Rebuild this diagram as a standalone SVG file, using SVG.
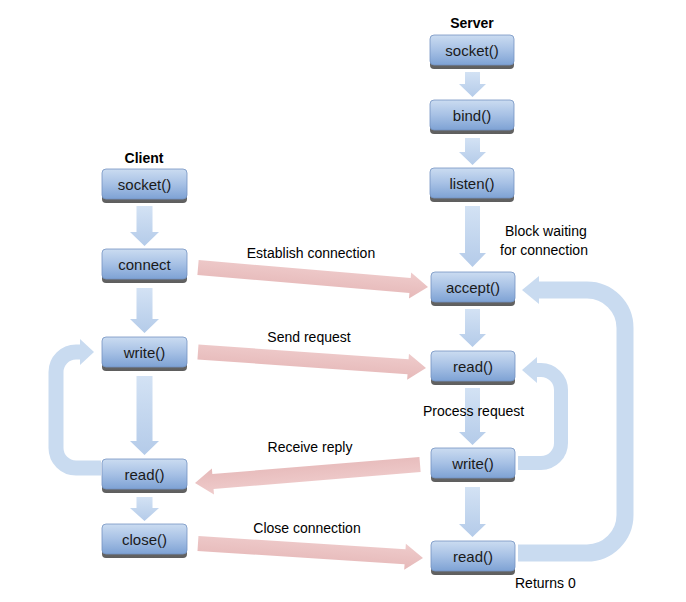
<svg xmlns="http://www.w3.org/2000/svg" width="686" height="602" viewBox="0 0 686 602">
<defs>
<linearGradient id="gBox" x1="0" y1="0" x2="0" y2="1">
<stop offset="0" stop-color="#cbdcf1"/>
<stop offset="0.5" stop-color="#a7c1e5"/>
<stop offset="1" stop-color="#7ea2d4"/>
</linearGradient>
<linearGradient id="gShadow" x1="0" y1="0" x2="0" y2="1">
<stop offset="0" stop-color="#8a8a8a"/>
<stop offset="1" stop-color="#5e5e5e"/>
</linearGradient>
<linearGradient id="gDown" x1="0" y1="0" x2="0" y2="1">
<stop offset="0" stop-color="#d3e2f4"/>
<stop offset="1" stop-color="#b4cbe9"/>
</linearGradient>
<linearGradient id="gPink" x1="0" y1="0" x2="0" y2="1">
<stop offset="0" stop-color="#efcccc"/>
<stop offset="1" stop-color="#e6b9b9"/>
</linearGradient>
</defs>
<style>
.shadow{fill:url(#gShadow);}
.box{fill:url(#gBox);stroke:#7393c2;stroke-width:0.8;}
.lbl{font-family:"Liberation Sans",Arial,sans-serif;font-size:15px;fill:#1a1a1a;text-anchor:middle;}
.txt{font-family:"Liberation Sans",Arial,sans-serif;font-size:14px;fill:#000;}
.hdr{font-family:"Liberation Sans",Arial,sans-serif;font-size:14px;font-weight:bold;fill:#000;text-anchor:middle;}
.down{fill:url(#gDown);}
.pink{fill:url(#gPink);}
.loop{fill:none;stroke:#c9dbf0;}
.loophead{fill:#c9dbf0;}
</style>

<text class="hdr" x="144" y="163">Client</text>
<text class="hdr" x="472" y="28">Server</text>

<g id="connectors">
<!-- client down arrows -->
<path class="down" d="M136.5,206 H152.5 V232 H159 L144.5,246 L130,232 H136.5 Z"/>
<path class="down" d="M136.5,288 H152.5 V319 H159 L144.5,333 L130,319 H136.5 Z"/>
<path class="down" d="M136.5,376 H152.5 V441 H159 L144.5,455 L130,441 H136.5 Z"/>
<path class="down" d="M136.5,497 H152.5 V508 H159 L144.5,521 L130,508 H136.5 Z"/>
<!-- server down arrows -->
<path class="down" d="M465,72 H480 V84 H486 L472.5,97 L459,84 H465 Z"/>
<path class="down" d="M465,138 H480 V152 H486 L472.5,165 L459,152 H465 Z"/>
<path class="down" d="M465,206 H480 V253 H486 L472.5,267 L459,253 H465 Z"/>
<path class="down" d="M465,309 H480 V334 H486 L472.5,347 L459,334 H465 Z"/>
<path class="down" d="M465,388 H480 V432 H486 L472.5,445 L459,432 H465 Z"/>
<path class="down" d="M465,487 H480 V524 H486 L472.5,537 L459,524 H465 Z"/>

<!-- pink message arrows -->
<polygon class="pink" transform="translate(428,287) rotate(4.85)" points="-230.8,-7.5 -18,-7.5 -18,-13 0,0 -18,13 -18,7.5 -230.8,7.5"/>
<polygon class="pink" transform="translate(426,368) rotate(4.01)" points="-228.6,-7.5 -18,-7.5 -18,-13 0,0 -18,13 -18,7.5 -228.6,7.5"/>
<polygon class="pink" transform="translate(195,483) rotate(175.3)" points="-225.8,-7.5 -18,-7.5 -18,-13 0,0 -18,13 -18,7.5 -225.8,7.5"/>
<polygon class="pink" transform="translate(423,558) rotate(3.69)" points="-225.5,-7.5 -18,-7.5 -18,-13 0,0 -18,13 -18,7.5 -225.5,7.5"/>

<!-- client loop read -> write -->
<path class="loop" stroke-width="15" d="M101,468 H76 A20,20 0 0 1 56,448 V372 A20,20 0 0 1 76,352 H82"/>
<polygon class="loophead" points="80,339 94,352 80,365"/>
<!-- server inner loop write -> read -->
<path class="loop" stroke-width="14" d="M518,463 H541 A20,20 0 0 0 561,443 V390 A20,20 0 0 0 541,370 H535"/>
<polygon class="loophead" points="537,357 522,370 537,383"/>
<!-- server outer loop read -> accept -->
<path class="loop" stroke-width="17" d="M518,553 H587 A38,38 0 0 0 625,515 V328 A38,38 0 0 0 587,290 H537"/>
<polygon class="loophead" points="539,276 522,290 539,304"/>
</g>

<!-- client nodes -->
<g id="c_socket"><rect class="shadow" x="102" y="172" width="85" height="31" rx="4"/><rect class="box" x="102" y="169" width="85" height="30" rx="4"/><text class="lbl" x="144.5" y="189.5">socket()</text></g>
<g id="c_connect"><rect class="shadow" x="102" y="252" width="85" height="31" rx="4"/><rect class="box" x="102" y="249" width="85" height="30" rx="4"/><text class="lbl" x="144.5" y="269.5">connect</text></g>
<g id="c_write"><rect class="shadow" x="102" y="340" width="85" height="31" rx="4"/><rect class="box" x="102" y="337" width="85" height="30" rx="4"/><text class="lbl" x="144.5" y="357.5">write()</text></g>
<g id="c_read"><rect class="shadow" x="102" y="462" width="85" height="31" rx="4"/><rect class="box" x="102" y="459" width="85" height="30" rx="4"/><text class="lbl" x="144.5" y="479.5">read()</text></g>
<g id="c_close"><rect class="shadow" x="102" y="527" width="85" height="31" rx="4"/><rect class="box" x="102" y="524" width="85" height="30" rx="4"/><text class="lbl" x="144.5" y="544.5">close()</text></g>

<!-- server nodes -->
<g id="s_socket"><rect class="shadow" x="430" y="38" width="84" height="31" rx="4"/><rect class="box" x="430" y="35" width="84" height="30" rx="4"/><text class="lbl" x="472" y="55.5">socket()</text></g>
<g id="s_bind"><rect class="shadow" x="430" y="103" width="84" height="31" rx="4"/><rect class="box" x="430" y="100" width="84" height="30" rx="4"/><text class="lbl" x="472" y="120.5">bind()</text></g>
<g id="s_listen"><rect class="shadow" x="430" y="171" width="84" height="31" rx="4"/><rect class="box" x="430" y="168" width="84" height="30" rx="4"/><text class="lbl" x="472" y="188.5">listen()</text></g>
<g id="s_accept"><rect class="shadow" x="431" y="275" width="84" height="31" rx="4"/><rect class="box" x="431" y="272" width="84" height="30" rx="4"/><text class="lbl" x="473" y="292.5">accept()</text></g>
<g id="s_read1"><rect class="shadow" x="431" y="354" width="84" height="31" rx="4"/><rect class="box" x="431" y="351" width="84" height="30" rx="4"/><text class="lbl" x="473" y="371.5">read()</text></g>
<g id="s_write"><rect class="shadow" x="431" y="451" width="84" height="31" rx="4"/><rect class="box" x="431" y="448" width="84" height="30" rx="4"/><text class="lbl" x="473" y="468.5">write()</text></g>
<g id="s_read2"><rect class="shadow" x="431" y="544" width="84" height="31" rx="4"/><rect class="box" x="431" y="541" width="84" height="30" rx="4"/><text class="lbl" x="473" y="561.5">read()</text></g>

<!-- labels -->
<text class="txt" x="311" y="258" text-anchor="middle">Establish connection</text>
<text class="txt" x="309" y="342" text-anchor="middle">Send request</text>
<text class="txt" x="310" y="452" text-anchor="middle">Receive reply</text>
<text class="txt" x="307" y="533" text-anchor="middle">Close connection</text>
<text class="txt" x="505" y="236">Block waiting</text>
<text class="txt" x="500" y="255">for connection</text>
<text class="txt" x="423" y="416">Process request</text>
<text class="txt" x="515" y="588">Returns 0</text>
</svg>
